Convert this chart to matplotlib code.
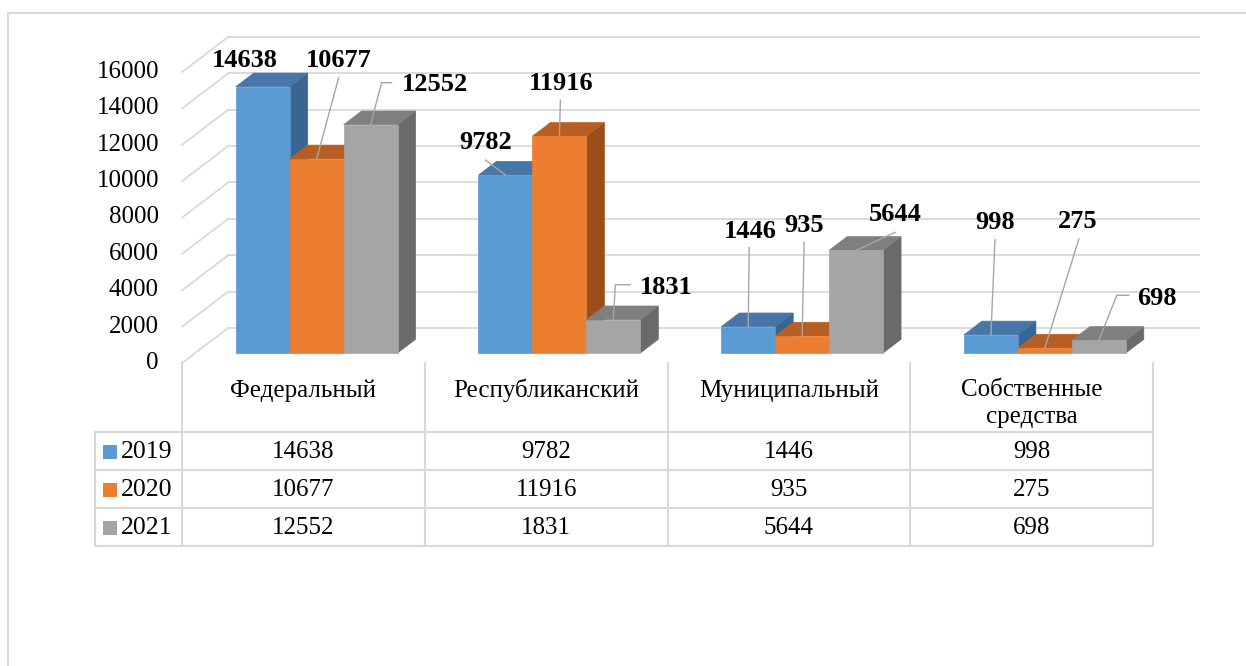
import matplotlib.pyplot as plt
from matplotlib.patches import Polygon, Rectangle

plt.rcParams['font.family'] = ['Liberation Serif', 'DejaVu Serif']

# data
categories = ['Федеральный', 'Республиканский', 'Муниципальный', 'Собственные\nсредства']
years = ['2019', '2020', '2021']
v2019 = [14638, 9782, 1446, 998]
v2020 = [10677, 11916, 935, 275]
v2021 = [12552, 1831, 5644, 698]
yticks = [0, 2000, 4000, 6000, 8000, 10000, 12000, 14000, 16000]

series = [v2019, v2020, v2021]
front_colors = ['#5B9BD5', '#ED7D31', '#A5A5A5']
top_colors = ['#4677A7', '#B95E22', '#7F7F7F']
side_colors = ['#3B6591', '#9A4E1B', '#6A6A6A']
grid_c = '#D9D9D9'
leader_c = '#A6A6A6'

W, H = 1246, 666
fig = plt.figure(figsize=(W / 100, H / 100), dpi=100)
ax = fig.add_axes([0, 0, 1, 1])
ax.axis('off')

# picture pixels <-> data: category i centred at 303.5 + 242.75*i, value 0 at y=363
CAT_PX = 242.75
VAL_PX = 0.018188
X0, Y0 = 303.5, 363
ax.set_xlim(-X0 / CAT_PX, (W - X0) / CAT_PX)
ax.set_ylim((Y0 - H) / VAL_PX, Y0 / VAL_PX)


def xpx(px):
    return (px - X0) / CAT_PX


def ypx(py):
    return (Y0 - py) / VAL_PX


def shift(x, v, dx, dy):
    # move a data point by dx, dy picture pixels (dy downwards)
    return x + dx / CAT_PX, v - dy / VAL_PX


def depth(x, v, d):
    return shift(x, v, 46 * d, -35 * d)


# outer frame
ax.plot([xpx(8), xpx(8), xpx(W)], [ypx(H), ypx(13), ypx(13)], color=grid_c, lw=1.5)

# walls: back gridlines and side diagonals
for t in yticks:
    a = depth(-0.5, t, 1)
    b = depth(3.5, t, 1)
    ax.plot([a[0], b[0]], [a[1], b[1]], color=grid_c, lw=1.3, zorder=1)
    c = depth(-0.5, t, 0)
    ax.plot([c[0], a[0]], [c[1], a[1]], color=grid_c, lw=1.3, zorder=1)
    ax.text(xpx(159), t, str(t), ha='right', va='center', fontsize=18)

# bars
bw = 2 / 9
D0, D1 = 0.286, 0.677
for i in range(len(categories)):
    for j, vals in enumerate(series):
        v = vals[i]
        x0 = i - 1 / 3 + j * bw
        x1 = x0 + bw
        front = [depth(x0, 0, D0), depth(x1, 0, D0), depth(x1, v, D0), depth(x0, v, D0)]
        top = [depth(x0, v, D0), depth(x1, v, D0), depth(x1, v, D1), depth(x0, v, D1)]
        side = [depth(x1, 0, D0), depth(x1, v, D0), depth(x1, v, D1), depth(x1, 0, D1)]
        for pts, c in ((side, side_colors[j]), (top, top_colors[j]), (front, front_colors[j])):
            ax.add_patch(Polygon(pts, closed=True, fc=c, ec=c, lw=0.5, zorder=3))

# data labels: text offset and leader line (pixels from bar's front top centre)
label_off = [
    [(-18, -26), (22, -98), (64, -40)],
    [(-20, -33), (2, -53), (53, -32)],
    [(2, -95), (2, -110), (39, -36)],
    [(4, -112), (33, -126), (58, -42)],
]
leaders = [
    [None, [(22, -81)], [(21, -42), (11, -42)]],
    [[(-20, -15)], [(1, -36)], [(17, -35), (2, -35)]],
    [[(1, -79)], [(2, -94)], [(39, -18)]],
    [[(4, -95)], [(34, -109)], [(30, -45), (18, -45)]],
]
for i in range(len(categories)):
    for j, vals in enumerate(series):
        v = vals[i]
        xc = i - 1 / 3 + (j + 0.5) * bw
        ax0, av0 = depth(xc, v, D0)
        if leaders[i][j]:
            pts = [shift(ax0, av0, dx, dy) for dx, dy in leaders[i][j]] + [(ax0, av0)]
            ax.plot([p[0] for p in pts], [p[1] for p in pts], color=leader_c, lw=1.0, zorder=4)
        tx, tv = shift(ax0, av0, *label_off[i][j])
        ax.text(tx, tv, str(v), ha='center', va='center', fontsize=19,
                fontweight='bold', zorder=5)

# data table
rows_px = [363, 432, 470, 508, 546]
left_px = 95
for py in rows_px[1:]:
    ax.plot([xpx(left_px), 3.5], [ypx(py), ypx(py)], color=grid_c, lw=1.5)
for i in range(len(categories) + 1):
    ax.plot([i - 0.5, i - 0.5], [ypx(rows_px[0]), ypx(rows_px[-1])], color=grid_c, lw=1.5)
ax.plot([xpx(left_px)] * 2, [ypx(rows_px[1]), ypx(rows_px[-1])], color=grid_c, lw=1.5)

for i, cat in enumerate(categories):
    ax.text(i, ypx(379), cat, ha='center', va='top', fontsize=18, linespacing=1.3)
for j, (yr, vals) in enumerate(zip(years, series)):
    yc = ypx((rows_px[j + 1] + rows_px[j + 2]) / 2 + 1)
    ax.add_patch(Rectangle((xpx(103), yc - 7 / VAL_PX), 14 / CAT_PX, 14 / VAL_PX,
                           fc=front_colors[j], ec='none'))
    ax.text(xpx(121), yc, yr, ha='left', va='center', fontsize=18.5)
    for i, v in enumerate(vals):
        ax.text(i, yc, str(v), ha='center', va='center', fontsize=18)

fig.savefig('out.png', dpi=100)
